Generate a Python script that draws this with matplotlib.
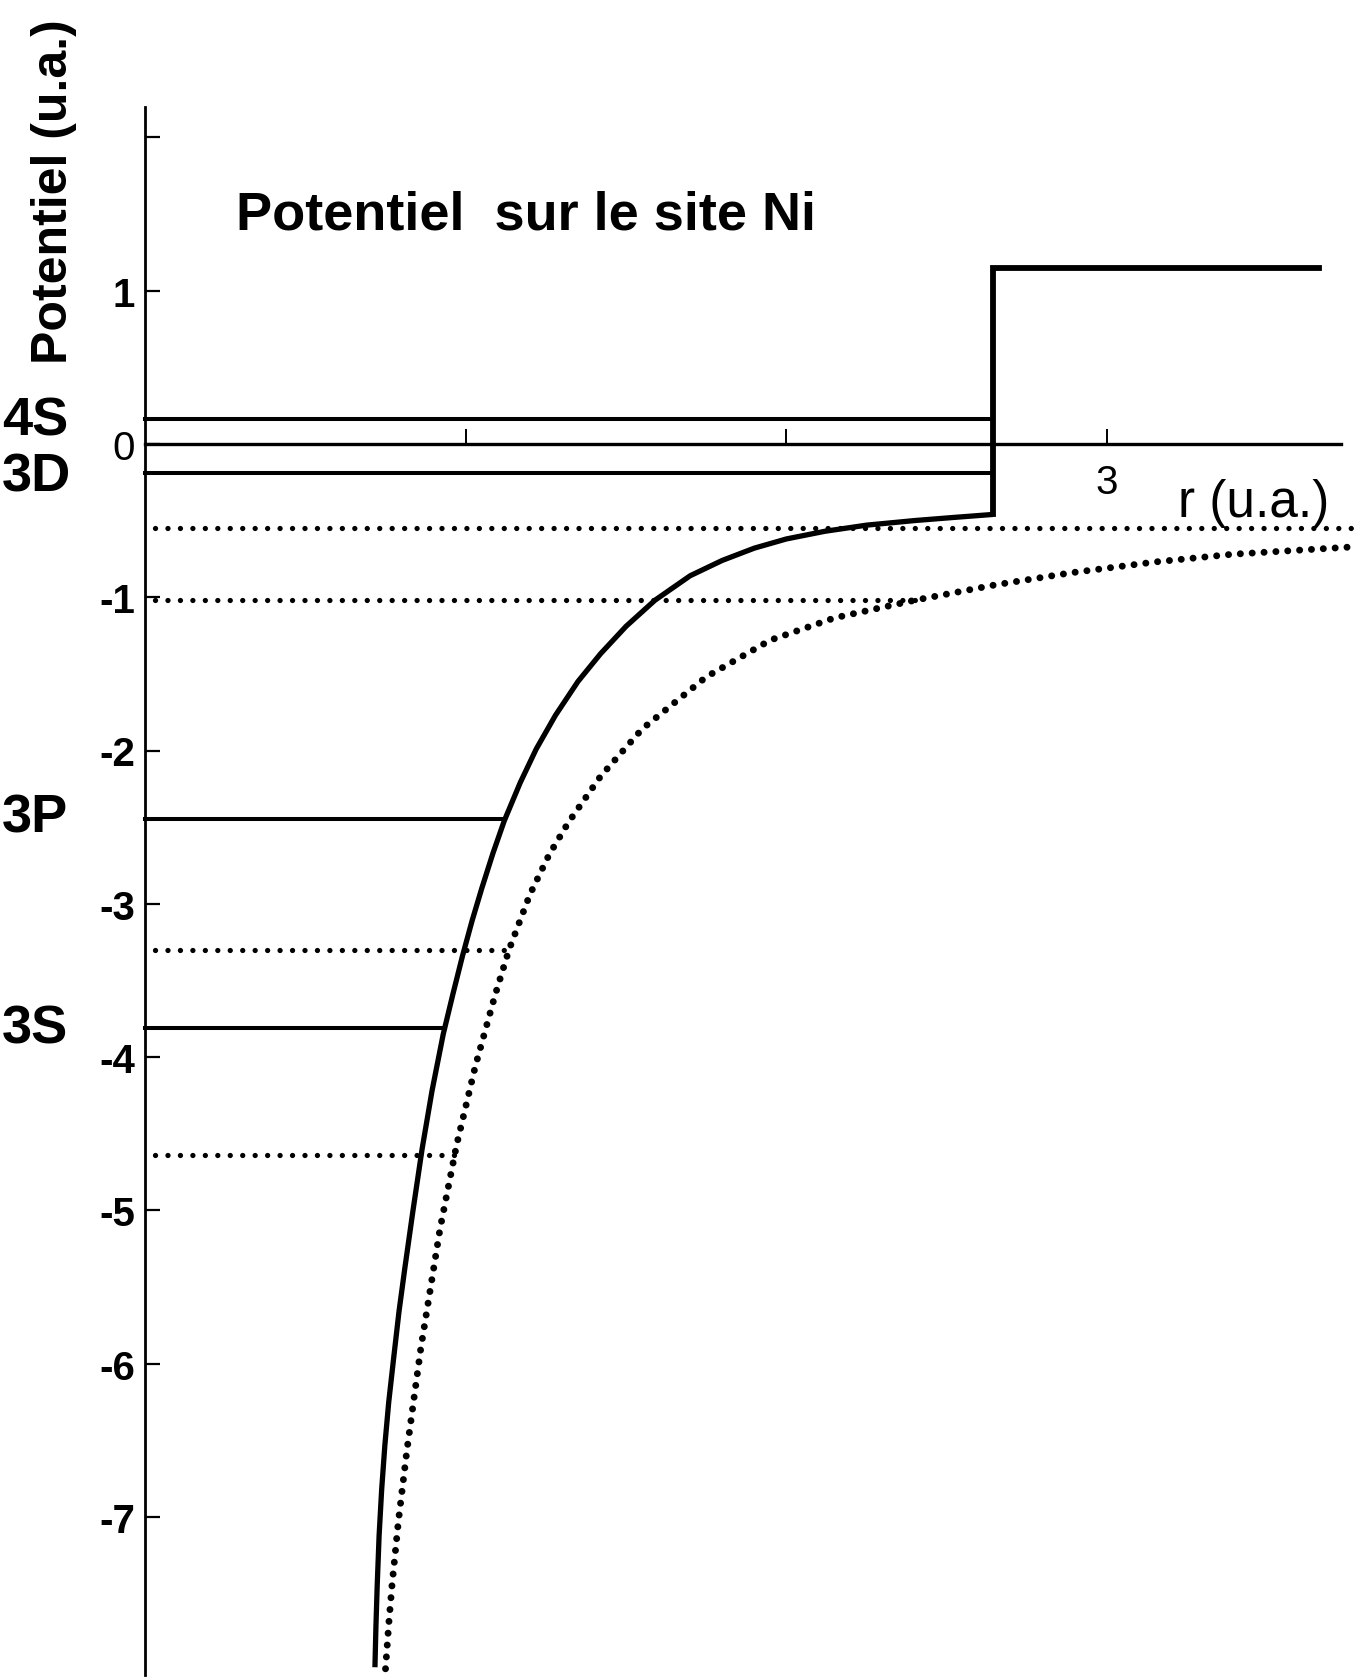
import matplotlib
matplotlib.use("Agg")
import matplotlib.pyplot as plt

# ---------------- data (r and V in u.a.) ----------------
solid_r = [0.717, 0.720, 0.724, 0.730, 0.738, 0.748, 0.760, 0.775, 0.792, 0.81, 0.835,
           0.864, 0.895, 0.93, 0.96, 0.99, 1.02, 1.05, 1.085, 1.12, 1.17, 1.22, 1.28,
           1.35, 1.42, 1.50, 1.59, 1.70, 1.80, 1.90, 2.00, 2.12, 2.25, 2.40, 2.52, 2.645]
solid_v = [-7.98, -7.72, -7.45, -7.12, -6.82, -6.53, -6.25, -5.97, -5.66, -5.38, -5.01,
           -4.60, -4.22, -3.85, -3.59, -3.34, -3.11, -2.90, -2.67, -2.46, -2.21, -1.99, -1.77,
           -1.55, -1.37, -1.19, -1.02, -0.86, -0.76, -0.68, -0.62, -0.57, -0.53, -0.50, -0.48, -0.46]
step_r = [2.645, 2.645, 3.66]
step_v = [-0.46, 1.15, 1.15]

dotted_r = [0.750, 0.760, 0.770, 0.790, 0.817, 0.86, 0.92, 0.972, 1.03, 1.091, 1.135,
            1.20, 1.26, 1.32, 1.42, 1.55, 1.75, 1.95, 2.15, 2.40, 2.65, 2.89, 3.15, 3.39, 3.78]
dotted_v = [-7.99, -7.70, -7.45, -7.03, -6.56, -5.90, -5.12, -4.57, -4.06, -3.60, -3.30,
            -2.94, -2.68, -2.47, -2.17, -1.86, -1.52, -1.28, -1.135, -1.02, -0.92, -0.84, -0.77, -0.72, -0.67]

# solid levels: (name, energy, r_end)
level_names = ["4S", "3D", "3P", "3S"]
level_v = [0.16, -0.19, -2.45, -3.81]
level_rend = [2.645, 2.645, 1.122, 0.935]

# dotted levels: energy, r_start, r_end
dlevel_v = [-0.55, -1.02, -3.30, -4.64]
dlevel_rstart = [0.03, 0.03, 0.03, 0.03]
dlevel_rend = [3.79, 2.40, 1.135, 0.965]

yticks = [2, 1, 0, -1, -2, -3, -4, -5, -6, -7]
ytick_labels = ["", "1", "0", "-1", "-2", "-3", "-4", "-5", "-6", "-7"]
xticks = [1, 2, 3]
xtick_labels = ["", "", "3"]

title = "Potentiel  sur le site Ni"
ylabel = "Potentiel (u.a.)"
xlabel = "r (u.a.)"

# ---------------- figure ----------------
W, H = 1361, 1681
fig = plt.figure(figsize=(W / 100, H / 100), dpi=100)
ax = fig.add_axes([0, 0, 1, 1])
ax.patch.set_alpha(0)
FONT = ["Liberation Sans", "DejaVu Sans"]

x0, sx = 145.0, 320.7   # pixel of r=0, px per unit
y0, sy = 444.9, 153.3   # pixel of V=0, px per unit
ax.set_xlim(-x0 / sx, (W - x0) / sx)
ax.set_ylim((y0 - H) / sy, y0 / sy)

# spines as axes through the origin
for s in ["top", "right"]:
    ax.spines[s].set_visible(False)
ax.spines["left"].set_position(("data", 0))
ax.spines["bottom"].set_position(("data", 0))
ax.spines["left"].set_bounds(-8.03, 2.20)
ax.spines["bottom"].set_bounds(0, 3.73)
ax.spines["left"].set_linewidth(2.0)
ax.spines["bottom"].set_linewidth(2.4)

ax.set_yticks(yticks)
ax.set_yticklabels(ytick_labels)
ax.set_xticks(xticks)
ax.set_xticklabels(xtick_labels)
ax.tick_params(axis="y", direction="in", length=11, width=1.6, pad=7, labelsize=29)
ax.tick_params(axis="x", direction="in", length=11, width=1.4, pad=14, labelsize=29)
for lab in ax.get_yticklabels():
    lab.set_family(FONT)
    lab.set_fontweight("normal" if lab.get_text() == "0" else "bold")
for lab in ax.get_xticklabels():
    lab.set_family(FONT)

# curves
ax.plot(solid_r, solid_v, color="black", lw=3.8, solid_capstyle="butt", solid_joinstyle="round")
ax.plot(step_r, step_v, color="black", lw=4.2, solid_joinstyle="miter")
ax.plot(dotted_r, dotted_v, color="black", lw=5.0, linestyle=(0, (0.01, 1.7)),
        dash_capstyle="round")

# levels
for v, re in zip(level_v, level_rend):
    ax.plot([0, re], [v, v], color="black", lw=2.9)
for v, rs, re in zip(dlevel_v, dlevel_rstart, dlevel_rend):
    ax.plot([rs, re], [v, v], color="black", lw=3.8, linestyle=(0, (0.01, 2.35)),
            dash_capstyle="round")

def fx(px):
    return px / W

def fy(py):
    return 1 - py / H

# level names
level_baselines = [435, 492, 833, 1043]
for name, yb in zip(level_names, level_baselines):
    fig.text(fx(2), fy(yb), name, family=FONT, fontsize=39, fontweight="bold",
             ha="left", va="baseline")

fig.text(fx(236), fy(229), title, family=FONT, fontsize=39, fontweight="bold",
         ha="left", va="baseline")
fig.text(fx(67), fy(364), ylabel, family=FONT, fontsize=36, fontweight="bold",
         rotation=90, rotation_mode="anchor", ha="left", va="baseline")
fig.text(fx(1178), fy(517), xlabel, family=FONT, fontsize=37, fontweight="normal",
         ha="left", va="baseline")

fig.savefig("out.png", dpi=100, facecolor="white")
